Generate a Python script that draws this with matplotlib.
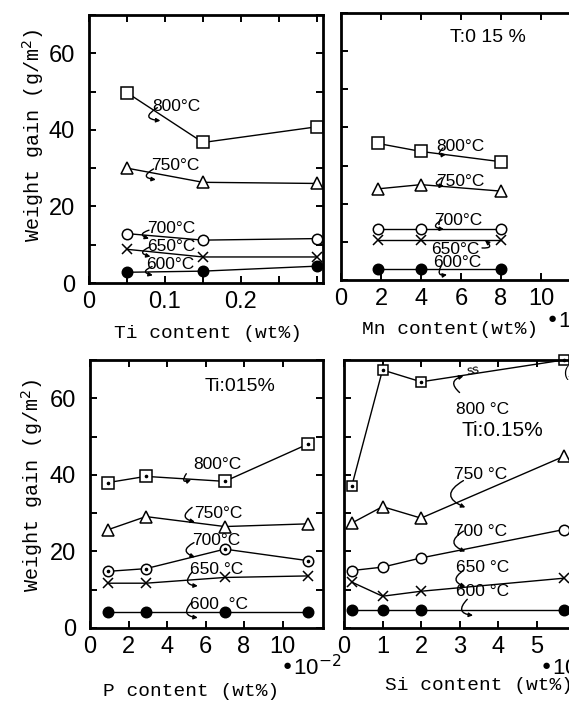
import matplotlib
matplotlib.use('Agg')
import matplotlib.pyplot as plt

# ---- data ----
temps = ['800', '750', '700', '650', '600']

ti_x = [0.05, 0.15, 0.30]
ti_800 = [49.7, 36.7, 40.8]
ti_750 = [30.0, 26.3, 26.0]
ti_700 = [12.9, 11.2, 11.6]
ti_650 = [8.8, 6.8, 6.8]
ti_600 = [2.8, 3.1, 4.4]

mn_x = [1.85, 4.0, 8.0]
mn_800 = [35.8, 33.7, 31.0]
mn_750 = [23.9, 25.0, 23.3]
mn_700 = [13.3, 13.3, 13.3]
mn_650 = [10.4, 10.4, 10.4]
mn_600 = [3.0, 3.0, 3.0]

p_x = [0.95, 2.9, 7.0, 11.3]
p_800 = [38.0, 39.6, 38.3, 48.0]
p_750 = [25.7, 29.1, 26.5, 27.2]
p_700 = [14.8, 15.5, 20.6, 17.6]
p_650 = [11.7, 11.7, 13.2, 13.6]
p_600 = [4.1, 4.1, 4.1, 4.1]

si_x = [0.2, 1.0, 2.0, 5.7]
si_800 = [37.0, 67.4, 64.3, 70.0]
si_750 = [27.4, 31.7, 28.7, 44.8]
si_700 = [15.0, 15.9, 18.3, 25.7]
si_650 = [12.0, 8.3, 9.6, 13.0]
si_600 = [4.8, 4.8, 4.8, 4.8]

NUM = ['Liberation Sans', 'DejaVu Sans']
MONO = ['Liberation Mono', 'DejaVu Sans Mono']

W, H = 569, 702
fig = plt.figure(figsize=(W / 100, H / 100), dpi=100)


def box(l, t, r, b):
    return [l / W, 1 - b / H, (r - l) / W, (b - t) / H]


def frame(ax, xmax, xticks, xlabels, ylab):
    ax.set_xlim(0, xmax)
    ax.set_ylim(0, 70)
    for s in ax.spines.values():
        s.set_linewidth(2.0)
    ax.set_xticks(xticks)
    ax.set_xticklabels(xlabels)
    ax.set_yticks(range(0, 71, 10))
    if ylab:
        ax.set_yticklabels(['0', '', '20', '', '40', '', '60', ''])
    else:
        ax.set_yticklabels([])
    ax.tick_params(direction='in', top=True, right=True, length=5, width=1.4,
                   labelsize=17, pad=6)
    ax.tick_params(axis='y', pad=10)
    for t in ax.get_xticklabels() + ax.get_yticklabels():
        t.set_family(NUM)


def series(ax, x, y, m, filled=False, dot=False, ms=8, clip=True):
    ax.plot(x, y, color='k', lw=1.0, marker=m, ms=ms,
            mfc='k' if filled else 'white', mec='k', mew=1.1, clip_on=clip)
    if dot:
        ax.plot(x, y, ls='none', marker='o', ms=1.6, color='k', clip_on=clip)


def draw(ax, x, ys, dots=()):
    marks = ['s', '^', 'o', 'x', 'o']
    sizes = [8.5, 9, 7.5, 6.5, 7.5]
    for k, (y, m, s) in enumerate(zip(ys, marks, sizes)):
        series(ax, x, y, m, filled=(k == 4), dot=(k in dots), ms=s)


def tag(ax, txt, x, y, start, end, rad=1.5, size=12.5, ha='center'):
    ax.text(x, y, txt, ha=ha, va='center', fontsize=size, family=NUM)
    ax.annotate('', xy=end, xytext=start,
                arrowprops=dict(arrowstyle='-|>', lw=1.0, color='k',
                                mutation_scale=6,
                                connectionstyle='arc3,rad=%s' % rad,
                                shrinkA=0, shrinkB=0))


deg = '\u00b0C'

# ---- Ti content ----
ax1 = fig.add_axes(box(89, 15, 323, 283))
draw(ax1, ti_x, [ti_800, ti_750, ti_700, ti_650, ti_600])
frame(ax1, 0.308, [0, 0.05, 0.1, 0.15, 0.2, 0.25, 0.3],
      ['0', '', '0.1', '', '0.2', '', ''], True)
tag(ax1, '800' + deg, 0.115, 46.0, (0.090, 45.8), (0.094, 42.4))
tag(ax1, '750' + deg, 0.113, 30.7, (0.085, 29.8), (0.088, 27.0))
tag(ax1, '700' + deg, 0.108, 14.2, (0.079, 13.8), (0.079, 11.6))
tag(ax1, '650' + deg, 0.108, 9.6, (0.080, 9.4), (0.081, 6.9))
tag(ax1, '600' + deg, 0.107, 4.8, (0.083, 4.3), (0.084, 2.0))

# ---- Mn content ----
ax2 = fig.add_axes(box(341, 13, 581, 280))
draw(ax2, mn_x, [mn_800, mn_750, mn_700, mn_650, mn_600])
frame(ax2, 12, [0, 2, 4, 6, 8, 10], ['0', '2', '4', '6', '8', '10'], False)
ax2.text(7.35, 63.5, 'T:0 15 %', ha='center', va='center', fontsize=14, family=NUM)
tag(ax2, '800' + deg, 5.99, 35.0, (5.1, 34.6), (5.25, 32.9))
tag(ax2, '750' + deg, 5.95, 25.7, (5.05, 26.8), (5.15, 24.6))
tag(ax2, '700' + deg, 5.87, 15.7, (5.05, 15.8), (5.15, 13.3))
tag(ax2, '650' + deg, 5.73, 8.0, (7.05, 8.4), (7.2, 10.4))
tag(ax2, '600' + deg, 5.82, 4.6, (5.0, 3.6), (5.3, 1.4), rad=1.0)

# ---- P content ----
ax3 = fig.add_axes(box(90, 360, 323, 628))
draw(ax3, p_x, [p_800, p_750, p_700, p_650, p_600], dots=(0, 2))
frame(ax3, 12.1, [0, 2, 4, 6, 8, 10], ['0', '2', '4', '6', '8', '10'], True)
ax3.text(7.8, 63, 'Ti:015%', ha='center', va='center', fontsize=14, family=NUM)
tag(ax3, '800' + deg, 6.6, 42.6, (5.0, 40.3), (5.25, 38.7))
tag(ax3, '750' + deg, 6.65, 30.0, (5.3, 31.5), (5.45, 27.7), rad=1.1)
tag(ax3, '700' + deg, 6.56, 22.9, (5.4, 22.3), (5.45, 18.5), rad=1.1)
tag(ax3, '650 ' + deg, 6.56, 15.2, (5.3, 14.6), (5.6, 11.0), rad=1.0)
tag(ax3, '600  ' + deg, 6.7, 6.1, (5.3, 6.8), (5.6, 2.7), rad=1.0)

# ---- Si content ----
ax4 = fig.add_axes(box(344, 360, 584, 628))
for k, (y, m, s) in enumerate(zip([si_800, si_750, si_700, si_650, si_600],
                                  ['s', '^', 'o', 'x', 'o'],
                                  [7.5, 8, 7.5, 6.5, 7.5])):
    series(ax4, si_x, y, m, filled=(k == 4), dot=(k == 0), ms=s, clip=(k != 0))
frame(ax4, 6.23, [0, 1, 2, 3, 4, 5, 6], ['0', '1', '2', '3', '4', '5', '6'], False)
ax4.text(3.35, 67.2, 'ss', ha='center', va='center', fontsize=9, family=NUM, rotation=10)
ax4.text(5.69, 66.5, '(103)', ha='left', va='center', fontsize=10, family=NUM)
ax4.text(4.1, 51.7, 'Ti:0.15%', ha='center', va='center', fontsize=15, family=NUM)
tag(ax4, '800 ' + deg, 3.6, 57.0, (3.0, 61.5), (3.1, 65.8), rad=-0.9)
tag(ax4, '750 ' + deg, 3.55, 40.0, (3.1, 38.5), (3.15, 31.5), rad=1.0)
tag(ax4, '700 ' + deg, 3.55, 25.2, (3.1, 25.3), (3.15, 20.0), rad=1.0)
tag(ax4, '650 ' + deg, 3.6, 15.7, (3.1, 15.0), (3.15, 10.8), rad=1.0)
tag(ax4, '600 ' + deg, 3.6, 9.6, (3.2, 7.5), (3.35, 3.3), rad=1.0)

# ---- axis titles ----
ylab = 'Weight gain (g/m$^2$)'
fig.text(33 / W, 1 - 135 / H, ylab, rotation=90, ha='center', va='center', fontsize=14.5, family=MONO)
fig.text(32 / W, 1 - 485 / H, ylab, rotation=90, ha='center', va='center', fontsize=14.5, family=MONO)
fig.text(208 / W, 1 - 334 / H, 'Ti content (wt%)', ha='center', va='center', fontsize=14, family=MONO)
fig.text(450 / W, 1 - 330 / H, 'Mn content(wt%)', ha='center', va='center', fontsize=14, family=MONO)
fig.text(191 / W, 1 - 691 / H, 'P content (wt%)', ha='center', va='center', fontsize=14, family=MONO)
fig.text(385 / W, 1 - 686 / H, 'Si content (wt%)', ha='left', va='center', fontsize=14, family=MONO)
fig.text(545 / W, 1 - 321 / H, '\u202210$^{-1}$', ha='left', va='center', fontsize=16, family=NUM)
fig.text(280 / W, 1 - 668 / H, '\u202210$^{-2}$', ha='left', va='center', fontsize=16, family=NUM)
fig.text(539 / W, 1 - 668 / H, '\u202210$^{-1}$', ha='left', va='center', fontsize=16, family=NUM)

fig.savefig('out.png', dpi=100)
